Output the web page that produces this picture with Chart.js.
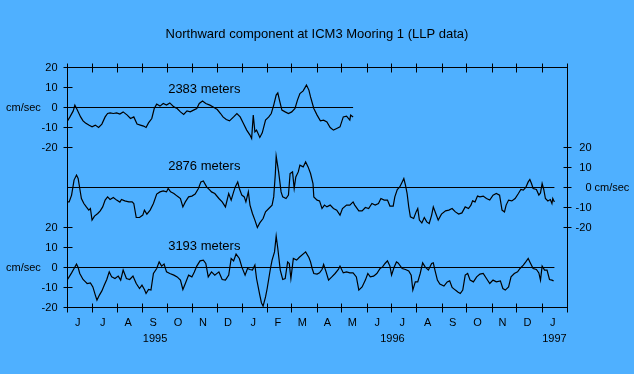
<!DOCTYPE html>
<html><head><meta charset="utf-8">
<script src="https://cdn.jsdelivr.net/npm/chart.js@4/dist/chart.umd.min.js"></script>
<style>html,body{margin:0;padding:0;background:#4FB0FF;}canvas{display:block}</style>
</head><body>
<canvas id="c" width="634" height="374"></canvas>
<script>
const chartTitle = 'Northward component at ICM3 Mooring 1 (LLP data)';
const seriesNames = ['2383 meters', '2876 meters', '3193 meters'];
const unitLabel = 'cm/sec';
const tickValues = [20, 10, 0, -10, -20];
const monthLabels = ['J','J','A','S','O','N','D','J','F','M','A','M','J','J','A','S','O','N','D','J'];
// days since 1 June 1995 of each month start (Jun 1995 .. Feb 1997)
const monthStartDays = [0,30,61,92,122,153,183,214,245,274,305,335,366,396,427,458,488,519,549,580,611];
const yearLabels = ['1995', '1996', '1997'];
const yearLabelDays = [107, 397, 595];

// 2383 m
const days2383 = [0,3,7,9,12,16,19,22,26,30,34,38,42,46,49,52,56,60,64,68,73,77,81,85,89,93,96,99,103,106,
109,113,117,121,125,130,134,138,142,146,150,154,158,161,165,169,174,178,183,187,190,194,198,203,207,211,215,219,223,225,
227,229,231,235,238,242,246,249,252,255,257,259,262,266,270,274,278,281,284,288,292,295,297,301,305,309,313,317,321,325,
329,333,337,341,345,346,349];
const vel2383 = [-6.7,-4.7,-1.7,1.2,-1.3,-4.7,-6.7,-7.7,-8.8,-9.7,-8.8,-10,-8.3,-4.7,-3,-2.7,-3,-2.7,-3.3,-2.2,
-3.8,-5.5,-4.7,-8.3,-8.8,-9.3,-10,-7.7,-5.5,-0.5,1.7,0.7,2,1.2,2.3,0.3,-0.5,-2.2,-3.5,-1.7,
-2.2,-1.3,-0.5,2,3.2,2,1.2,0.3,-1,-3,-4.7,-6,-6.7,-4.7,-3,-4.7,-8,-11.3,-13.8,-15.5,
-3.8,-12.2,-11.3,-15,-12.7,-6.3,-4.7,-3,1.2,6.2,7.3,3.7,-1.3,-2.2,-3,-2.2,-0.5,3.7,7,8.3,
11.2,8.7,5.3,-0.5,-3.8,-6.7,-6.3,-7.2,-10,-11.3,-10.5,-9.7,-4.7,-4.3,-6.3,-3.8,-4.7];

// 2876 m
const days2876 = [0,2,5,8,11,13,15,17,20,23,26,28,30,33,37,40,43,46,49,52,56,60,64,66,70,75,79,81,84,88,
92,94,97,101,105,109,113,117,121,123,126,130,134,138,141,144,148,152,156,160,163,166,170,174,176,180,185,189,193,197,
200,203,205,208,210,213,216,218,221,223,226,229,232,235,239,242,246,250,252,254,255,258,261,263,267,270,272,275,277,279,
282,284,288,291,294,297,300,301,305,308,311,314,317,321,325,329,333,336,341,345,349,351,356,360,364,368,372,376,380,383,
387,391,394,398,400,403,406,409,411,413,415,417,419,423,426,428,430,433,436,439,442,445,447,450,453,457,462,466,470,474,
478,482,486,490,493,495,498,501,504,508,512,516,520,524,528,531,534,536,539,543,547,551,554,557,560,563,565,567,569,573,
576,578,580,582,584,587,590,592,593,595];
const vel2876 = [-7.2,-7.2,-3.8,3.7,6.2,4.5,-0.5,-5.5,-8,-9.7,-11.3,-10.5,-16.3,-14.3,-13,-11.7,-9.7,-6.3,-4.7,-6,
-5,-6.3,-7.3,-6,-6.7,-7.2,-7.2,-8,-15,-15,-13.8,-11.3,-13.3,-11.3,-8,-3.3,-2.2,-1.7,-2.2,-0.5,
-2.2,-3,-4.3,-5.5,-9.7,-7.2,-4.7,-4.3,-3.3,-0.5,2.8,3.3,0.3,-1.3,-2.2,-3,-5.5,-7.2,-9.7,-3,
-6.3,-2.2,0.3,2.8,-0.5,-3.8,-4.7,-7.2,-2.2,-8.8,-13,-16.3,-20,-17.7,-15.5,-12.2,-10.5,-8.8,-4.7,7,
15.7,7.8,-2.2,-4.7,-5.5,-3.8,7,7.8,-0.5,5.3,7.8,11.2,10.3,12.8,10.3,7,2,-4.7,-6.3,-6.7,
-10.5,-8.8,-9.7,-8.8,-10.5,-11.3,-13.8,-10.5,-8.8,-8.8,-7.2,-8.8,-11.7,-11.7,-10,-10.5,-8,-8.8,-8,-5.5,
-6.3,-6.3,-9.3,-9.3,-4.7,-1,0.3,2.8,4.5,1.2,-3,-9.7,-14.7,-15.5,-12.2,-10.5,-16.3,-17.7,-15,-17.2,
-18,-13.8,-9.7,-13,-16.3,-13.3,-11.7,-11.3,-10.5,-12.2,-13.3,-12.7,-9.7,-10.5,-8.8,-6.7,-7.2,-4.3,-4.7,-4.3,
-5.5,-6.3,-3.8,-3,-3.8,-11.3,-12.2,-8.8,-6.3,-6.7,-5.5,-3,-1,-1.3,0,2.8,4,2,-0.5,-1,
-3.8,-2.7,2,-1,-5.5,-6.7,-6,-8,-5.5,-7.2];

// 3193 m
const days3193 = [0,2,5,8,11,13,15,19,22,24,28,31,34,36,39,42,45,48,51,54,58,62,65,68,72,76,80,84,88,91,
94,96,99,102,105,109,112,115,118,121,125,130,134,138,141,144,148,152,155,158,162,166,169,172,176,180,185,189,193,197,
200,203,206,210,213,217,220,223,226,229,231,235,237,239,242,244,248,250,253,255,257,260,263,266,269,271,273,276,280,283,
291,295,297,299,301,305,308,311,313,316,319,323,327,331,333,337,341,345,349,353,356,360,364,367,370,374,378,382,385,388,
391,394,396,399,402,404,409,413,417,420,422,425,428,431,434,437,441,445,447,449,452,455,460,464,467,470,474,477,480,483,
486,489,492,496,500,504,508,512,516,520,524,529,532,535,539,542,546,550,553,557,560,563,565,569,573,576,578,580,583,586,
589,592,594];
const vel3193 = [-6,-4.7,-2.7,-0.5,1.7,0,-3,-6,-7.2,-8,-7.7,-9.7,-13.8,-16.3,-13.8,-11.7,-8.8,-6,-2.2,-4.7,
-5.5,-4.3,-6.3,-1.3,-5.5,-6,-4.3,-8,-10.5,-8.8,-11,-13,-11,-11.3,-3,-0.5,2.8,0.7,1.7,-2.2,
-3,-3.8,-4.7,-6.3,-11,-8,-3.8,-4.7,-2.2,0.7,3.3,3.7,2,-4.7,-2.2,-3.8,-2.2,-6,-6.3,-3.8,
4.5,3.3,6.7,4.5,0.3,-3.8,-0.5,-1,-1.3,1.2,-5.5,-13.8,-17.7,-19.3,-14.7,-10.5,-0.5,3.7,7.8,15.7,
9.5,-1.3,-6,-5.5,2.8,2,-5.5,4.5,3.7,5,7.8,5,2.8,-0.5,-3,-3.3,-2.7,-1,1.5,-2.2,
-6.3,-4.7,-3,-1,0.7,-2.7,-2.2,-2.7,-2.7,-4.7,-11.3,-9.7,-6.3,-3,-4.7,-4.3,-3,-0.5,0.3,2,
3.3,0.7,-3.8,0,2.8,2.3,-0.5,-1,-1.7,-3.8,-11.3,-7.2,-7.2,-3,2.3,0.3,-1.3,2,2.3,-1.3,
-6.3,-8.3,-9.3,-7.2,-6.7,-10,-11.3,-12.2,-13,-11.3,-3.8,-3,-6.3,-7.2,-4.7,-3.3,-3,-5.5,-8,-6.3,
-7.2,-6.7,-10.5,-11.3,-9.7,-4.7,-3,-2.2,-0.5,1.2,2.8,4.5,2.8,-0.5,-1,-2.7,-6.3,0.7,-1.3,-1.3,
-6,-6.3,-6.7];

const zeroLineEndDays = [349, 595, 595];

// layout: the three records are stacked on one value axis
const stackOffsets = [80, 40, 0];
const FONT = '"Liberation Sans", Arial, sans-serif';

const series = [[days2383, vel2383], [days2876, vel2876], [days3193, vel3193]];
const datasets = [];
series.forEach(([d, v], i) => {
  const off = stackOffsets[i];
  datasets.push({ data: [{x: 0, y: off}, {x: zeroLineEndDays[i], y: off}], borderColor: '#000', borderWidth: 1 });
  datasets.push({ label: seriesNames[i], data: d.map((t, k) => ({x: t, y: v[k] + off})), borderColor: '#000', borderWidth: 1.2 });
});

const crisp = v => Math.floor(v) + 0.5;

const framePlugin = {
  id: 'frame',
  afterDraw(chart) {
    const {ctx, chartArea: a, scales: {x, y}} = chart;
    ctx.save();
    ctx.strokeStyle = '#000';
    ctx.lineWidth = 1;
    const L = crisp(a.left), R = crisp(a.right), T = crisp(a.top), B = crisp(a.bottom);
    ctx.beginPath();
    ctx.moveTo(L, T); ctx.lineTo(R, T); ctx.lineTo(R, B); ctx.lineTo(L, B); ctx.closePath();
    monthStartDays.forEach(d => {
      const px = crisp(x.getPixelForValue(d));
      ctx.moveTo(px, T - 4); ctx.lineTo(px, T + 5);
      ctx.moveTo(px, B - 4); ctx.lineTo(px, B + 5);
    });
    [0, 2].forEach(i => tickValues.forEach(v => {
      const py = crisp(y.getPixelForValue(v + stackOffsets[i]));
      ctx.moveTo(L - 4, py); ctx.lineTo(L + 5, py);
    }));
    tickValues.forEach(v => {
      const py = crisp(y.getPixelForValue(v + stackOffsets[1]));
      ctx.moveTo(R - 4, py); ctx.lineTo(R + 4, py);
    });
    ctx.stroke();

    ctx.fillStyle = '#000';
    ctx.font = '11px ' + FONT;
    ctx.textBaseline = 'middle';
    // left value labels
    [0, 2].forEach(i => {
      tickValues.forEach(v => {
        ctx.textAlign = 'right';
        ctx.fillText(String(v), L - 10, y.getPixelForValue(v + stackOffsets[i]));
      });
      ctx.textAlign = 'left';
      ctx.fillText(unitLabel, 6, y.getPixelForValue(stackOffsets[i]));
    });
    // right value labels
    tickValues.forEach(v => {
      ctx.textAlign = 'right';
      ctx.fillText(String(v), R + 24, y.getPixelForValue(v + stackOffsets[1]));
    });
    ctx.textAlign = 'left';
    ctx.fillText(unitLabel, R + 27, y.getPixelForValue(stackOffsets[1]));

    // month labels
    ctx.textAlign = 'center';
    monthLabels.forEach((m, i) => {
      const mid = (monthStartDays[i] + monthStartDays[i + 1]) / 2;
      ctx.fillText(m, x.getPixelForValue(mid) - 2, B + 15);
    });
    yearLabels.forEach((yl, i) => ctx.fillText(yl, x.getPixelForValue(yearLabelDays[i]), B + 31));

    // series names
    ctx.font = '13px ' + FONT;
    ctx.textAlign = 'left';
    const nameLift = [9, 10.5, 10.5];
    seriesNames.forEach((n, i) => ctx.fillText(n, x.getPixelForValue(123), y.getPixelForValue(stackOffsets[i] + nameLift[i])));

    // title
    ctx.textAlign = 'center';
    ctx.fillText(chartTitle, 317, 34);
    ctx.restore();
  }
};

new Chart(document.getElementById('c'), {
  type: 'line',
  data: { datasets },
  options: {
    responsive: false, animation: false, devicePixelRatio: 1,
    layout: { padding: { left: 67.5, right: 66.5, top: 67.5, bottom: 66.5 } },
    plugins: { legend: { display: false }, tooltip: { enabled: false }, title: { display: false } },
    scales: {
      x: { type: 'linear', min: 0, max: 611, display: false },
      y: { type: 'linear', min: -20, max: 100, display: false }
    },
    elements: { point: { radius: 0 }, line: { tension: 0 } }
  },
  plugins: [framePlugin]
});
</script>
</body></html>
